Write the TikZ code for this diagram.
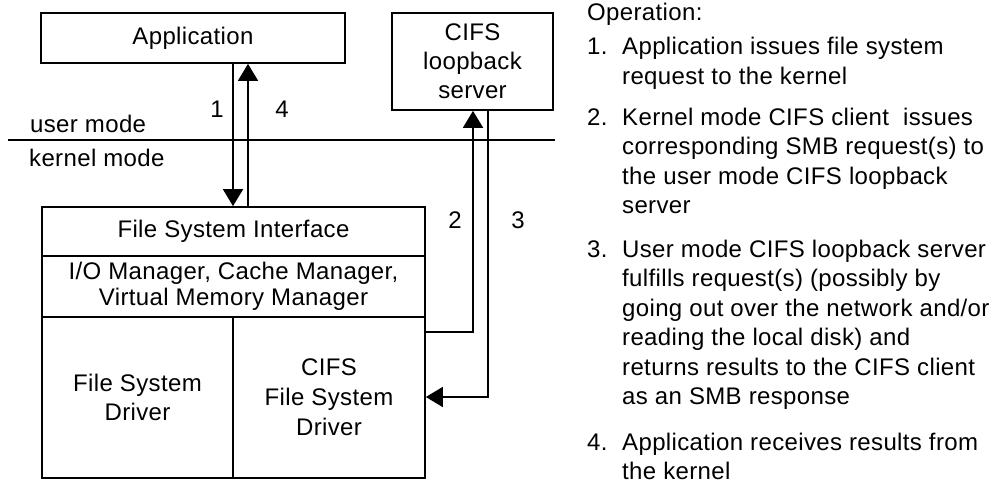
\documentclass[tikz,border=0pt]{standalone}
\usepackage{fontspec}
\setmainfont[LetterSpace=1.5]{Liberation Sans}
\usetikzlibrary{arrows.meta}
\tikzset{
  lbl/.style={font=\fontsize{24}{29}\selectfont, inner sep=0pt},
  cell/.style={lbl, draw, line width=1.7pt, align=center},
  arr/.style={line width=1.7pt, -{Triangle[length=17pt,width=20pt]}},
  wire/.style={line width=1.7pt},
  item/.style={anchor=base west, inner sep=0pt,
               font=\fontsize{24}{29.5}\selectfont},
}
% a step text whose baseline is that of its first line
\newcommand{\steptext}[1]{\parbox[t]{390pt}{\raggedright #1}}
\begin{document}
\begin{tikzpicture}[x=1pt, y=-1pt]
  \useasboundingbox (0,0) rectangle (995,487);

  % user-mode boxes
  \node[cell, minimum width=304pt, minimum height=50pt] (app) at (193,38) {Application};
  \node[cell, minimum width=161pt, minimum height=97pt] (srv) at (472.5,61.5)
       {CIFS\\loopback\\server};

  % kernel stack
  \node[cell, minimum width=383pt, minimum height=49pt] (fsi) at (233.5,231.5)
       {File System Interface};
  \node[cell, minimum width=383pt, minimum height=61pt,
        font=\fontsize{24}{26}\selectfont] (io) at (233.5,286.5)
       {I/O Manager, Cache Manager,\\Virtual Memory Manager};
  \node[cell, minimum width=191pt, minimum height=161pt] (fsd) at (137.5,397.5)
       {File System\\Driver};
  \node[cell, minimum width=192pt, minimum height=161pt,
        font=\fontsize{24}{30}\selectfont] (cfsd) at (329,397.5)
       {CIFS\\File System\\Driver};

  % user / kernel boundary
  \coordinate (ml) at (8,140);
  \coordinate (mr) at (555,140);
  \draw[wire] (ml) -- (mr);
  \node[lbl, anchor=base west] (um) at (30,132) {user mode};
  \node[lbl, anchor=base west] (km) at (29,166) {kernel mode};

  % request / reply arrows
  \coordinate (a1) at (233,0);
  \coordinate (a4) at (248,0);
  \coordinate (p2) at (473,332);
  \coordinate (p3) at (488,397);
  \draw[arr] (app.south -| a1) -- (fsi.north -| a1);
  \draw[arr] (fsi.north -| a4) -- (app.south -| a4);
  \draw[arr] (cfsd.east |- p2) -| (srv.south -| p2);
  \draw[arr] (srv.south -| p3) |- (cfsd.east |- p3);

  \node[lbl, anchor=base] (n1) at (217,117) {1};
  \node[lbl, anchor=base] (n4) at (282,117) {4};
  \node[lbl, anchor=base] (n2) at (455,228) {2};
  \node[lbl, anchor=base] (n3) at (518,228) {3};

  % operation steps
  \node[item] (op) at (587,21) {Operation:};
  \node[item] (k1) at (587,55) {1.};
  \node[item] (t1) at (622,55) {\steptext{Application issues file system\\request to the kernel}};
  \node[item] (k2) at (587,125) {2.};
  \node[item] (t2) at (622,125) {\steptext{Kernel mode CIFS client\ \ issues\\corresponding SMB request(s) to\\the user mode CIFS loopback\\server}};
  \node[item] (k3) at (587,257) {3.};
  \node[item] (t3) at (622,257) {\steptext{User mode CIFS loopback server\\fulfills request(s) (possibly by\\going out over the network and/or\\reading the local disk) and\\returns results to the CIFS client\\as an SMB response}};
  \node[item] (k4) at (587,450) {4.};
  \node[item] (t4) at (622,450) {\steptext{Application receives results from\\the kernel}};
\end{tikzpicture}
\end{document}
